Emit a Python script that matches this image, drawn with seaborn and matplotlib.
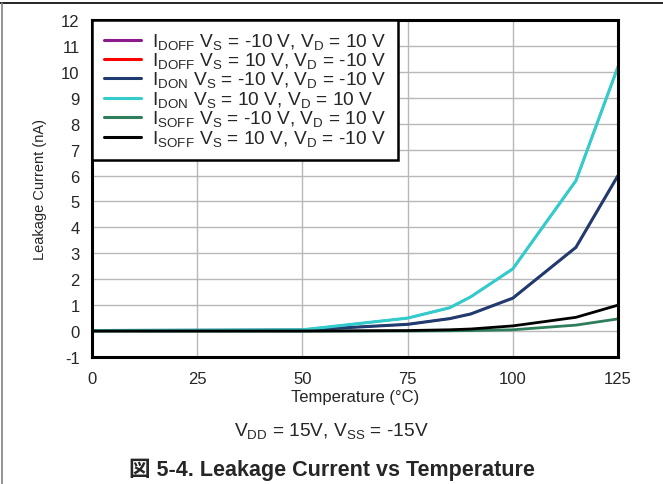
import numpy as np
import pandas as pd
import seaborn as sns
import matplotlib.pyplot as plt
from matplotlib.lines import Line2D

# temperature sweep (degC)
temps = [0, 25, 50, 75, 85, 90, 100, 115, 125]

# leakage current (nA)
idoff_neg = [0.02, 0.03, 0.05, 0.50, 0.90, 1.32, 2.40, 5.80, 10.20]
idoff_pos = [0.02, 0.03, 0.04, 0.26, 0.48, 0.66, 1.27, 3.23, 6.00]
idon_neg = [0.02, 0.03, 0.04, 0.26, 0.48, 0.66, 1.27, 3.23, 6.00]
idon_pos = [0.02, 0.03, 0.05, 0.50, 0.90, 1.32, 2.40, 5.80, 10.20]
isoff_neg = [0.00, 0.00, 0.00, 0.00, 0.01, 0.02, 0.05, 0.23, 0.47]
isoff_pos = [0.00, 0.00, 0.00, 0.02, 0.05, 0.08, 0.20, 0.53, 1.00]

labels = [
    r'I$_{\mathregular{DOFF}}$ V$_{\mathregular{S}}$ = -10 V, V$_{\mathregular{D}}$ = 10 V',
    r'I$_{\mathregular{DOFF}}$ V$_{\mathregular{S}}$ = 10 V, V$_{\mathregular{D}}$ = -10 V',
    r'I$_{\mathregular{DON}}$ V$_{\mathregular{S}}$ = -10 V, V$_{\mathregular{D}}$ = -10 V',
    r'I$_{\mathregular{DON}}$ V$_{\mathregular{S}}$ = 10 V, V$_{\mathregular{D}}$ = 10 V',
    r'I$_{\mathregular{SOFF}}$ V$_{\mathregular{S}}$ = -10 V, V$_{\mathregular{D}}$ = 10 V',
    r'I$_{\mathregular{SOFF}}$ V$_{\mathregular{S}}$ = 10 V, V$_{\mathregular{D}}$ = -10 V',
]
series = [idoff_neg, idoff_pos, idon_neg, idon_pos, isoff_neg, isoff_pos]
colors = ['#8B1A8B', '#FF0000', '#1F3B6F', '#33CCCC', '#2E7D5B', '#000000']
widths = [1.5, 1.5, 2.2, 2.2, 2.0, 2.0]

sns.set_style('white')
plt.rcParams['font.family'] = ['Liberation Sans', 'Noto Sans CJK JP', 'DejaVu Sans']
plt.rcParams['mathtext.fontset'] = 'custom'
plt.rcParams['mathtext.rm'] = 'Liberation Sans'
plt.rcParams['axes.unicode_minus'] = False

fig = plt.figure(figsize=(6.63, 4.85), dpi=100)
ax = fig.add_axes([92 / 663, 1 - 358 / 485, 526 / 663, 337 / 485])

for vals, lab, col, lw in zip(series, labels, colors, widths):
    df = pd.DataFrame({'temp': temps, 'leak': vals})
    sns.lineplot(data=df, x='temp', y='leak', color=col, linewidth=lw,
                 label=lab, ax=ax)

ax.set_xlim(0, 125)
ax.set_ylim(-1, 12)
ax.set_xticks(np.arange(0, 126, 25))
ax.set_yticks(np.arange(-1, 13, 1))
ax.grid(True, color='#b8b8b8', linewidth=1.0)
ax.tick_params(axis='y', length=0, labelsize=12, pad=9)
ax.tick_params(axis='x', length=0, labelsize=12, pad=10)
for s in ax.spines.values():
    s.set_color('black')
    s.set_linewidth(2.2)

ax.set_xlabel('Temperature (°C)', fontsize=12, labelpad=2)
ax.set_ylabel('Leakage Current (nA)', fontsize=10.5, labelpad=10)

leg = ax.legend(loc='upper left', bbox_to_anchor=(0.0, 1.0), fontsize=13.8,
                frameon=True, fancybox=False, framealpha=1, edgecolor='black',
                borderpad=0.6, labelspacing=-0.05, handlelength=1.95,
                handletextpad=0.57, borderaxespad=0.0)
leg.get_frame().set_linewidth(1.8)
for h in leg.get_lines():
    h.set_linewidth(2.2)

fig.text(0.5, 1 - 432 / 485, r'V$_{\mathregular{DD}}$ = 15V, V$_{\mathregular{SS}}$ = -15V',
         ha='center', va='center', fontsize=13.8)
fig.text(0.5, 1 - 470 / 485, '図 5-4. Leakage Current vs Temperature',
         ha='center', va='center', fontsize=15.5, fontweight='bold')

# page border bits
fig.add_artist(Line2D([0, 1], [1 - 4 / 485, 1 - 4 / 485], color='black',
                      linewidth=1.2, transform=fig.transFigure))
fig.add_artist(Line2D([1.5 / 663, 1.5 / 663], [0, 1 - 4 / 485], color='#808080',
                      linewidth=1.2, transform=fig.transFigure))

fig.savefig('out.png', dpi=100)
